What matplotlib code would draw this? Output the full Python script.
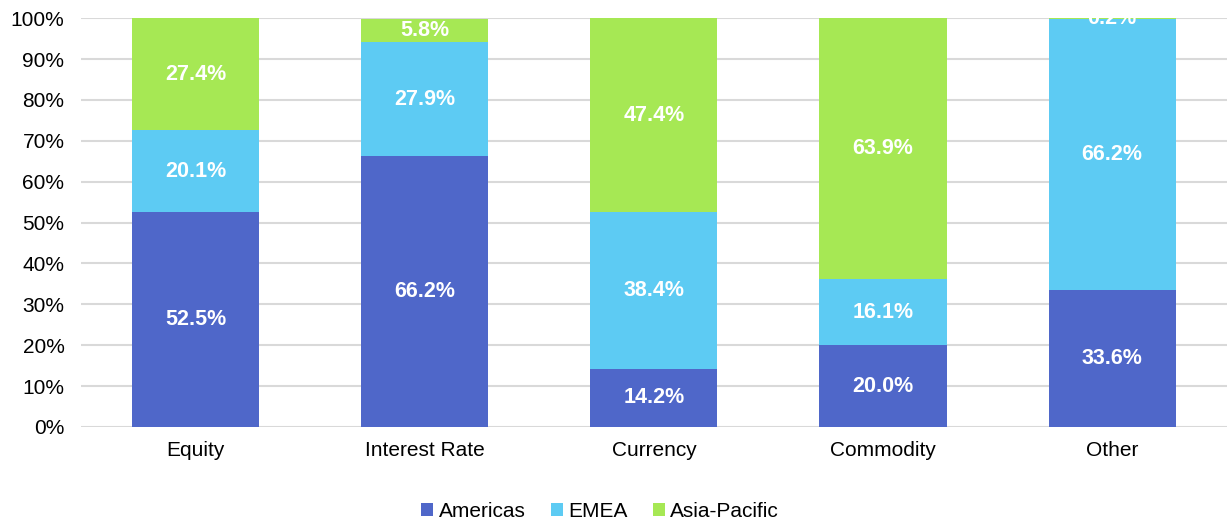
import numpy as np
import matplotlib.pyplot as plt
from matplotlib.ticker import PercentFormatter

plt.rcParams['font.family'] = ['Liberation Sans', 'DejaVu Sans']

categories = ['Equity', 'Interest Rate', 'Currency', 'Commodity', 'Other']
regions = ['Americas', 'EMEA', 'Asia-Pacific']
americas = [52.5, 66.2, 14.2, 20.0, 33.6]
emea = [20.1, 27.9, 38.4, 16.1, 66.2]
asia_pacific = [27.4, 5.8, 47.4, 63.9, 0.2]
colors = ['#4F67C9', '#5DCBF3', '#A6E854']

fig = plt.figure(figsize=(12.28, 5.2), dpi=100)
ax = fig.add_axes([0.066, 0.179, 0.933, 0.786])

x = np.arange(len(categories))
bottom = np.zeros(len(categories))
for name, vals, col in zip(regions, [americas, emea, asia_pacific], colors):
    vals = np.array(vals)
    ax.bar(x, vals, 0.555, bottom=bottom, color=col, label=name, zorder=2)
    for xi, b, v in zip(x, bottom, vals):
        ax.text(xi, b + v / 2, f'{v:.1f}%', ha='center', va='center',
                color='white', fontsize=15.5, fontweight='bold', zorder=3,
                clip_on=True)
    bottom += vals

ax.set_xlim(-0.5, len(categories) - 0.5)
ax.set_ylim(0, 100)
ax.set_yticks(np.arange(0, 101, 10))
ax.yaxis.set_major_formatter(PercentFormatter(decimals=0))
ax.set_xticks(x)
ax.set_xticklabels(categories)
ax.tick_params(axis='both', length=0, labelsize=15, colors='black')
ax.tick_params(axis='x', pad=10)
ax.tick_params(axis='y', pad=12)
ax.grid(axis='y', color='#D9D9D9', linewidth=1.5, zorder=0)
for s in ax.spines.values():
    s.set_visible(False)

ax.legend(loc='upper center', bbox_to_anchor=(0.453, -0.147), ncol=3,
          frameon=False, fontsize=15, handlelength=0.6, handleheight=0.6,
          handletextpad=0.25, columnspacing=1.2, borderpad=0.2)

fig.savefig('out.png', dpi=100)
